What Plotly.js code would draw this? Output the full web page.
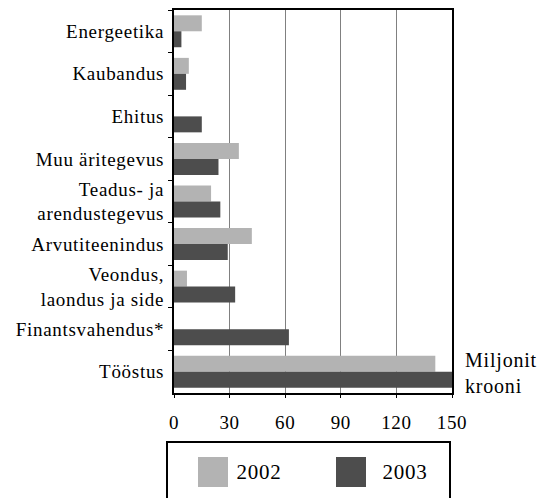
<!DOCTYPE html>
<html>
<head>
<meta charset="utf-8">
<script src="https://cdn.plot.ly/plotly-3.0.1.min.js"></script>
<style>
html,body{margin:0;padding:0;background:#fff;}
#chart{width:537px;height:498px;}
#chart .ytick text{letter-spacing:0.7px;}
#chart .xtick text{letter-spacing:0.6px;}
#chart .annotation-text{letter-spacing:0.8px;}
</style>
</head>
<body>
<div id="chart"></div>
<script>
const categories = ["Energeetika","Kaubandus","Ehitus","Muu äritegevus","Teadus- ja<br>arendustegevus","Arvutiteenindus","Veondus,<br>laondus ja side","Finantsvahendus*","Tööstus"];
const values2002 = [15, 8, 0, 35, 20, 42, 7, 0, 141];
const values2003 = [4, 6.5, 15, 24, 25, 29, 33, 62, 150];
const seriesNames = ["2002", "2003"];
const xTicks = [0, 30, 60, 90, 120, 150];
const unitLabel = "Miljonit<br>krooni";

const W = 537, H = 498;
const M = {l: 174, r: 85, t: 10, b: 105};
const pw = W - M.l - M.r, ph = H - M.t - M.b;
const px = x => (x - M.l) / pw;
const py = y => (H - M.b - y) / ph;

const colors = ["#b3b3b3", "#4d4d4d"];
const font = "'Liberation Serif'";

const traces = [values2002, values2003].map((vals, i) => ({
  type: "bar", orientation: "h", name: seriesNames[i],
  x: vals, y: categories,
  marker: {color: colors[i], line: {width: 0}},
  hoverinfo: "skip"
}));

const shapes = [
  {type: "rect", xref: "paper", yref: "paper", x0: px(167), x1: px(450), y0: py(442), y1: py(500),
   line: {color: "#000", width: 2}, fillcolor: "rgba(0,0,0,0)"},
  {type: "rect", xref: "paper", yref: "paper", x0: px(198), x1: px(228), y0: py(457), y1: py(487),
   line: {width: 0}, fillcolor: colors[0]},
  {type: "rect", xref: "paper", yref: "paper", x0: px(336), x1: px(366), y0: py(457), y1: py(487),
   line: {width: 0}, fillcolor: colors[1]}
];

const annotations = [
  {xref: "paper", yref: "paper", x: px(236), y: py(472), xanchor: "left", yanchor: "middle",
   text: seriesNames[0], showarrow: false, font: {family: font, size: 21, color: "#000"}},
  {xref: "paper", yref: "paper", x: px(382), y: py(472), xanchor: "left", yanchor: "middle",
   text: seriesNames[1], showarrow: false, font: {family: font, size: 21, color: "#000"}},
  {xref: "paper", yref: "paper", x: px(463), y: py(373), xanchor: "left", yanchor: "middle",
   text: unitLabel, align: "left", showarrow: false, font: {family: font, size: 20, color: "#000"}}
];

const layout = {
  width: W, height: H,
  margin: M,
  paper_bgcolor: "#fff", plot_bgcolor: "#fff",
  showlegend: false,
  barmode: "group", bargap: 0.25, bargroupgap: 0,
  font: {family: font, size: 19, color: "#000"},
  xaxis: {
    range: [0, 150], tickvals: xTicks, ticktext: xTicks.map(String),
    showgrid: true, gridcolor: "#808080", gridwidth: 1,
    showline: true, linecolor: "#000", linewidth: 2, mirror: true,
    ticks: "outside", ticklen: 3, tickcolor: "#000",
    ticklabelstandoff: 8,
    tickfont: {family: font, size: 19, color: "#000"},
    zeroline: false, fixedrange: true
  },
  yaxis: {
    type: "category", autorange: "reversed",
    showline: true, linecolor: "#000", linewidth: 2, mirror: true,
    ticks: "outside", ticklen: 4, tickcolor: "#000", tickson: "boundaries",
    showgrid: false,
    tickfont: {family: font, size: 19, color: "#000"},
    ticklabelstandoff: 4,
    fixedrange: true
  },
  shapes: shapes,
  annotations: annotations
};

Plotly.newPlot("chart", traces, layout, {displayModeBar: false, staticPlot: true});
</script>
</body>
</html>
